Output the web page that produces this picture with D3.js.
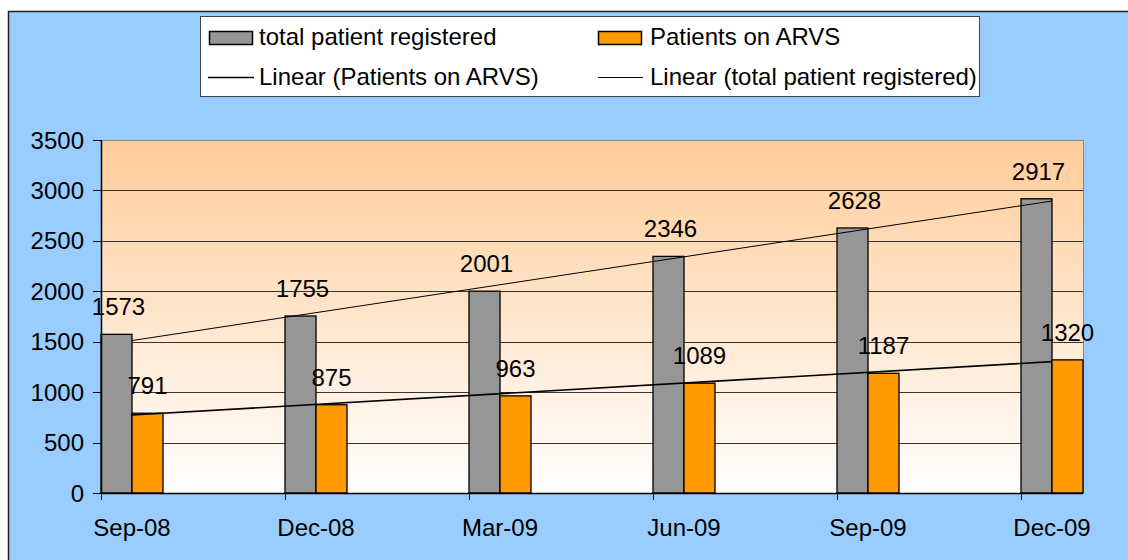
<!DOCTYPE html>
<html>
<head>
<meta charset="utf-8">
<script src="https://cdn.jsdelivr.net/npm/d3@7"></script>
<style>
  html, body { margin: 0; padding: 0; background: #ffffff; }
  svg { display: block; }
  text { font-family: "Liberation Sans", Arial, sans-serif; fill: #000; }
</style>
</head>
<body>
<svg id="chart" width="1128" height="560"></svg>
<script>
const categories = ["Sep-08", "Dec-08", "Mar-09", "Jun-09", "Sep-09", "Dec-09"];
const totalRegistered = [1573, 1755, 2001, 2346, 2628, 2917];
const patientsOnARVS = [791, 875, 963, 1089, 1187, 1320];
const yTicks = [0, 500, 1000, 1500, 2000, 2500, 3000, 3500];
const seriesNames = ["total patient registered", "Patients on ARVS"];
const trendNames = ["Linear (Patients on ARVS)", "Linear (total patient registered)"];

const svg = d3.select("#chart");
const W = 1128, H = 560;
const plot = { left: 101, right: 1083, top: 140, bottom: 493 };
const barW = 31;
const FS = 24;

// Outer background
svg.append("rect").attr("x", 8).attr("y", 11).attr("width", W - 8).attr("height", H - 11).attr("fill", "#99CCFF");
svg.append("line").attr("x1", 8.5).attr("x2", 8.5).attr("y1", 11).attr("y2", H).attr("stroke", "#222").attr("stroke-width", 1.5);
svg.append("line").attr("x1", 8).attr("x2", W).attr("y1", 11.5).attr("y2", 11.5).attr("stroke", "#222").attr("stroke-width", 1.5);

// Gradient
const defs = svg.append("defs");
const grad = defs.append("linearGradient").attr("id", "bg").attr("x1", 0).attr("x2", 0).attr("y1", 0).attr("y2", 1);
grad.append("stop").attr("offset", "0%").attr("stop-color", "#FFCC99");
grad.append("stop").attr("offset", "100%").attr("stop-color", "#FFFFFF");

const x = d3.scalePoint().domain(categories).range([plot.left, 1021]);
const y = d3.scaleLinear().domain([0, 3500]).range([plot.bottom, plot.top]);

svg.append("rect").attr("x", plot.left).attr("y", plot.top)
  .attr("width", plot.right - plot.left).attr("height", plot.bottom - plot.top)
  .attr("fill", "url(#bg)");

// Grid lines
svg.append("g").selectAll("line").data(yTicks.filter(t => t > 0)).join("line")
  .attr("x1", plot.left).attr("x2", plot.right)
  .attr("y1", d => Math.round(y(d)) + 0.5).attr("y2", d => Math.round(y(d)) + 0.5)
  .attr("stroke", d => d === 3500 ? "#888" : "#333").attr("stroke-width", 1);

// right border of plot
svg.append("line").attr("x1", plot.right + 0.5).attr("x2", plot.right + 0.5)
  .attr("y1", plot.top).attr("y2", plot.bottom).attr("stroke", "#888");

// Bars
const g = svg.append("g");
g.selectAll("rect.tot").data(categories).join("rect").attr("class", "tot")
  .attr("x", d => x(d)).attr("width", barW)
  .attr("y", (d, i) => y(totalRegistered[i])).attr("height", (d, i) => y(0) - y(totalRegistered[i]))
  .attr("fill", "#969696").attr("stroke", "#000").attr("stroke-width", 1.3);
g.selectAll("rect.arv").data(categories).join("rect").attr("class", "arv")
  .attr("x", d => x(d) + barW).attr("width", barW)
  .attr("y", (d, i) => y(patientsOnARVS[i])).attr("height", (d, i) => y(0) - y(patientsOnARVS[i]))
  .attr("fill", "#FF9900").attr("stroke", "#000").attr("stroke-width", 1.3);

// Trend lines (linear regression)
function regress(vals) {
  const n = vals.length;
  const mx = (n - 1) / 2;
  const my = d3.mean(vals);
  let sxy = 0, sxx = 0;
  vals.forEach((v, i) => { sxy += (i - mx) * (v - my); sxx += (i - mx) * (i - mx); });
  const b = sxy / sxx;
  const a = my - b * mx;
  return i => a + b * i;
}
const ft = regress(totalRegistered), fa = regress(patientsOnARVS);
const last = categories.length - 1;
const line = d3.line().x(d => d[0]).y(d => d[1]);
svg.append("path").attr("d", line([[x(categories[0]) + barW, y(ft(0))], [x(categories[last]) + barW, y(ft(last))]]))
  .attr("stroke", "#000").attr("stroke-width", 1).attr("fill", "none");
svg.append("path").attr("d", line([[x(categories[0]) + barW, y(fa(0))], [x(categories[last]) + barW, y(fa(last))]]))
  .attr("stroke", "#000").attr("stroke-width", 1.6).attr("fill", "none");

// Data labels
svg.append("g").selectAll("text").data(categories).join("text")
  .attr("x", d => x(d) + barW / 2 + 2).attr("y", (d, i) => y(totalRegistered[i]) - 19)
  .attr("text-anchor", "middle").attr("font-size", FS).text((d, i) => totalRegistered[i]);
svg.append("g").selectAll("text").data(categories).join("text")
  .attr("x", d => x(d) + barW * 1.5).attr("y", (d, i) => y(patientsOnARVS[i]) - 19)
  .attr("text-anchor", "middle").attr("font-size", FS).text((d, i) => patientsOnARVS[i]);

// Axes
svg.append("line").attr("x1", plot.left + 0.5).attr("x2", plot.left + 0.5).attr("y1", plot.top).attr("y2", plot.bottom)
  .attr("stroke", "#000").attr("stroke-width", 1.5);
svg.append("line").attr("x1", plot.left).attr("x2", plot.right).attr("y1", plot.bottom + 0.5).attr("y2", plot.bottom + 0.5)
  .attr("stroke", "#000").attr("stroke-width", 1.5);
svg.append("g").selectAll("line").data(yTicks).join("line")
  .attr("x1", 93).attr("x2", plot.left).attr("y1", d => Math.round(y(d)) + 0.5).attr("y2", d => Math.round(y(d)) + 0.5)
  .attr("stroke", "#000");
svg.append("g").selectAll("text").data(yTicks).join("text")
  .attr("x", 84).attr("y", d => y(d) + 8.5).attr("text-anchor", "end").attr("font-size", FS).text(d => d);
svg.append("g").selectAll("line").data(categories).join("line")
  .attr("x1", d => x(d) + 0.5).attr("x2", d => x(d) + 0.5).attr("y1", plot.bottom).attr("y2", 500)
  .attr("stroke", "#000");
svg.append("g").selectAll("text").data(categories).join("text")
  .attr("x", d => x(d) + barW).attr("y", 536).attr("text-anchor", "middle").attr("font-size", FS).text(d => d);

// Legend
const lg = svg.append("g");
lg.append("rect").attr("x", 200.5).attr("y", 16.5).attr("width", 779).attr("height", 80)
  .attr("fill", "#fff").attr("stroke", "#444").attr("stroke-width", 1);
lg.append("rect").attr("x", 209.5).attr("y", 31.5).attr("width", 43).attr("height", 13)
  .attr("fill", "#969696").attr("stroke", "#000").attr("stroke-width", 1.5);
lg.append("rect").attr("x", 598.5).attr("y", 31.5).attr("width", 43).attr("height", 13)
  .attr("fill", "#FF9900").attr("stroke", "#000").attr("stroke-width", 1.5);
lg.append("line").attr("x1", 208).attr("x2", 254).attr("y1", 77.5).attr("y2", 77.5).attr("stroke", "#000").attr("stroke-width", 1.6);
lg.append("line").attr("x1", 598).attr("x2", 643).attr("y1", 77.5).attr("y2", 77.5).attr("stroke", "#000").attr("stroke-width", 1);
lg.append("text").attr("x", 259).attr("y", 45).attr("font-size", FS).text(seriesNames[0]);
lg.append("text").attr("x", 650).attr("y", 45).attr("font-size", FS).text(seriesNames[1]);
lg.append("text").attr("x", 259).attr("y", 85).attr("font-size", FS).text(trendNames[0]);
lg.append("text").attr("x", 650).attr("y", 85).attr("font-size", FS).text(trendNames[1]);
</script>
</body>
</html>
